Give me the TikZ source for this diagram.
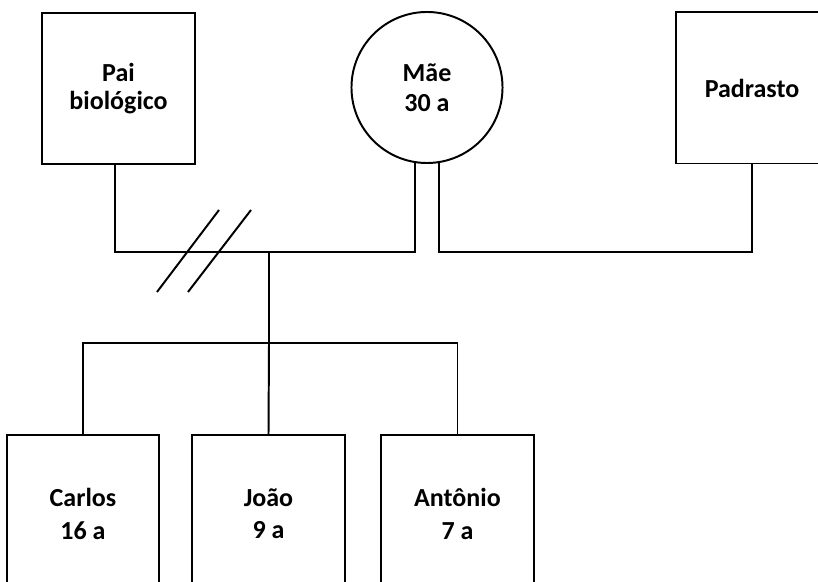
\documentclass[tikz,border=0pt]{standalone}
\usepackage{fontspec}
\setmainfont{Carlito}
\usepackage{tikz}

\tikzset{
	linha/.style={line width=1.4pt},
	pessoa/.style={draw, linha, rectangle, inner sep=0pt, align=center, minimum width=3.8cm, minimum height=3.775cm, font=\bfseries\fontsize{18.5}{19.5}\selectfont},
	mulher/.style={draw, linha, circle, inner sep=0pt, align=center, minimum size=3.775cm, font=\bfseries\fontsize{18.5}{21.3}\selectfont},
	filho/.style={pessoa, minimum height=3.95cm, font=\bfseries\fontsize{18.5}{22.8}\selectfont}
}

\begin{document}
\begin{tikzpicture}[x=0.025cm, y=-0.025cm]
	\useasboundingbox (0,0) rectangle (818,582);
	\clip (0,0) rectangle (818,582);
	\node[pessoa] (pai) at (118.5,88.5) {Pai\\biológico};
	\node[mulher] (mae) at (427,87.5) {Mãe\\30 a};
	\node[pessoa] (padrasto) at (752,88) {Padrasto};
	\node[filho] (carlos) at (83,514) {Carlos\\16 a};
	\node[filho] (joao) at (268.5,514) {João\\9 a};
	\node[filho] (antonio) at (457.5,514) {Antônio\\7 a};
	\coordinate (uniao) at (115,252);
	\coordinate (barra) at (269,252);
	\coordinate (filhos) at (269,343);
	\draw[linha] (uniao |- pai.south)
		-- (uniao)
		-- (uniao -| mae.-99)
		-- (mae.-99);
	\draw[linha] (mae.-81)
		-- (mae.-81 |- uniao)
		-- (uniao -| padrasto.south)
		-- (padrasto.south);
	\draw[linha] (157,292) -- (219,210);
	\draw[linha] (188,292) -- (251,210);
	\draw[linha] (barra) -- (filhos);
	\draw[linha] (carlos.north)
		-- (carlos.north |- filhos)
		-- (antonio.north |- filhos)
		-- (antonio.north);
	\draw[linha] (filhos) -- (joao.north);
\end{tikzpicture}
\end{document}
